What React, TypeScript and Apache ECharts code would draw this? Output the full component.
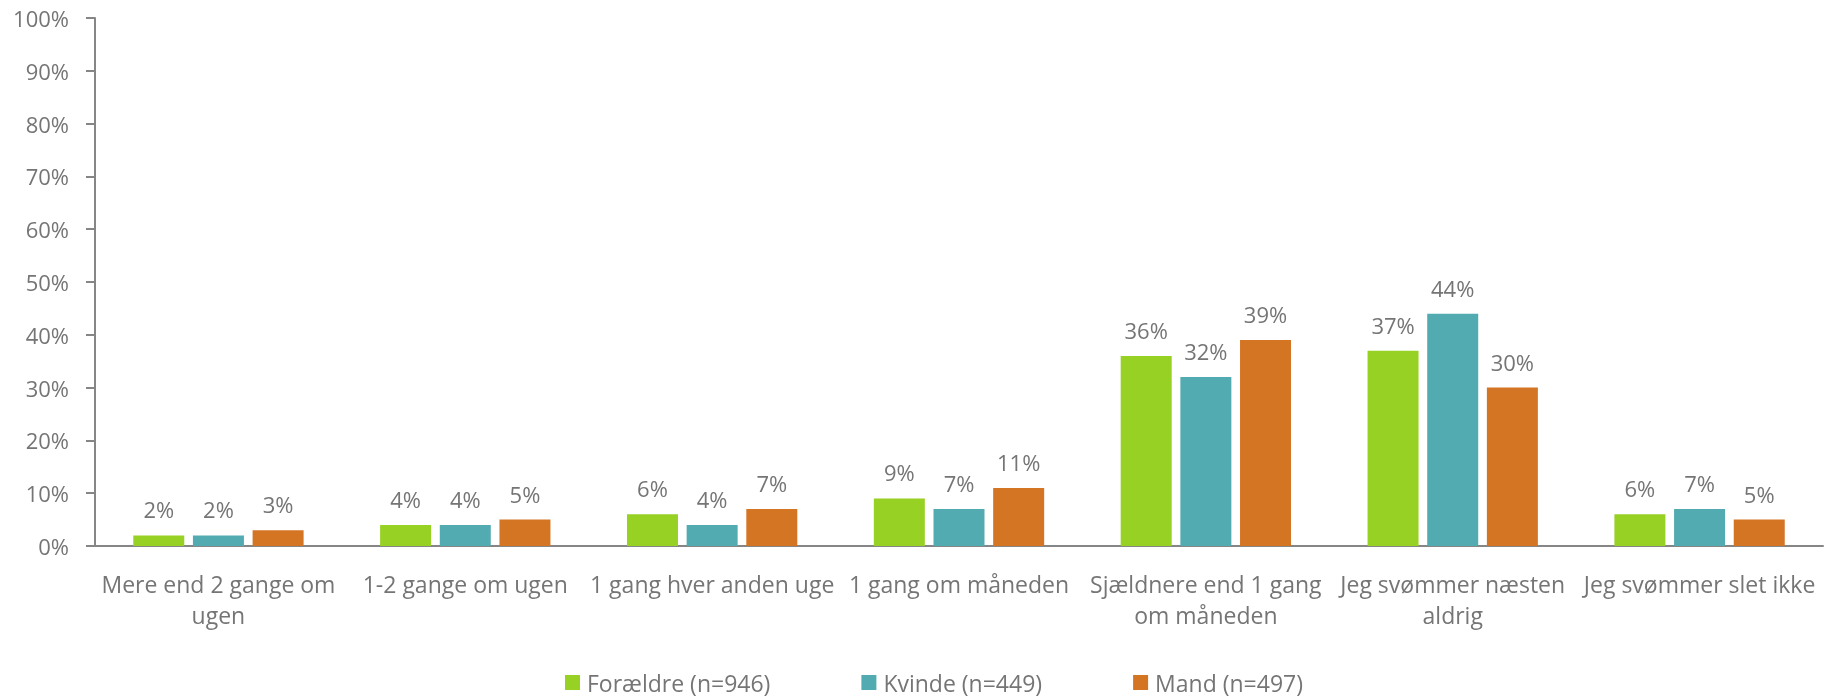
import React, { useEffect, useRef } from "react";
import * as echarts from "echarts";

const categories = [
  "Mere end 2 gange om\nugen",
  "1-2 gange om ugen",
  "1 gang hver anden uge",
  "1 gang om måneden",
  "Sjældnere end 1 gang\nom måneden",
  "Jeg svømmer næsten\naldrig",
  "Jeg svømmer slet ikke",
];
const seriesNames = ["Forældre (n=946)", "Kvinde (n=449)", "Mand (n=497)"];
const foraeldre = [2, 4, 6, 9, 36, 37, 6];
const kvinde = [2, 4, 4, 7, 32, 44, 7];
const mand = [3, 5, 7, 11, 39, 30, 5];
const colors = ["#97D124", "#52ABB0", "#D47524"];

const FONT = "'Open Sans', 'Noto Sans', sans-serif";
const TEXT = "#757575";

export default function App() {
  const ref = useRef<HTMLDivElement>(null);
  useEffect(() => {
    if (!ref.current) return;
    const chart = echarts.init(ref.current, undefined, { renderer: "svg" });
    const data = [foraeldre, kvinde, mand];
    chart.setOption({
      animation: false,
      textStyle: { fontFamily: FONT },
      grid: { left: 95, right: 16, top: 18, bottom: 152, containLabel: false },
      legend: {
        left: 565,
        top: 671,
        padding: 0,
        itemWidth: 15,
        itemHeight: 15,
        itemGap: 91,
        icon: "rect",
        textStyle: {
          color: TEXT,
          fontSize: 23,
          lineHeight: 23,
          fontFamily: FONT,
          padding: [0, 0, 0, 2],
        },
        data: seriesNames,
      },
      xAxis: {
        type: "category",
        data: categories,
        axisLine: { lineStyle: { color: "#868686", width: 2 } },
        axisTick: { show: false },
        axisLabel: {
          color: TEXT,
          fontSize: 23,
          margin: 22,
          lineHeight: 31,
          interval: 0,
          fontFamily: FONT,
        },
      },
      yAxis: {
        type: "value",
        min: 0,
        max: 100,
        interval: 10,
        axisLine: { show: true, lineStyle: { color: "#868686", width: 2 } },
        axisTick: { show: true, inside: false, length: 9, lineStyle: { color: "#868686", width: 2 } },
        splitLine: { show: false },
        axisLabel: {
          formatter: "{value}%",
          color: TEXT,
          fontSize: 22,
          margin: 26,
          fontFamily: FONT,
        },
      },
      series: seriesNames.map((name, i) => ({
        name,
        type: "bar",
        data: data[i],
        barGap: "17%",
        barCategoryGap: "31%",
        itemStyle: { color: colors[i] },
        label: {
          show: true,
          position: "top",
          distance: 15,
          formatter: "{c}%",
          color: TEXT,
          fontSize: 22,
          fontFamily: FONT,
        },
      })),
    });
    return () => chart.dispose();
  }, []);
  return (
    <div
      ref={ref}
      style={{ position: "fixed", left: 0, top: 0, width: 1839, height: 698 }}
    />
  );
}
